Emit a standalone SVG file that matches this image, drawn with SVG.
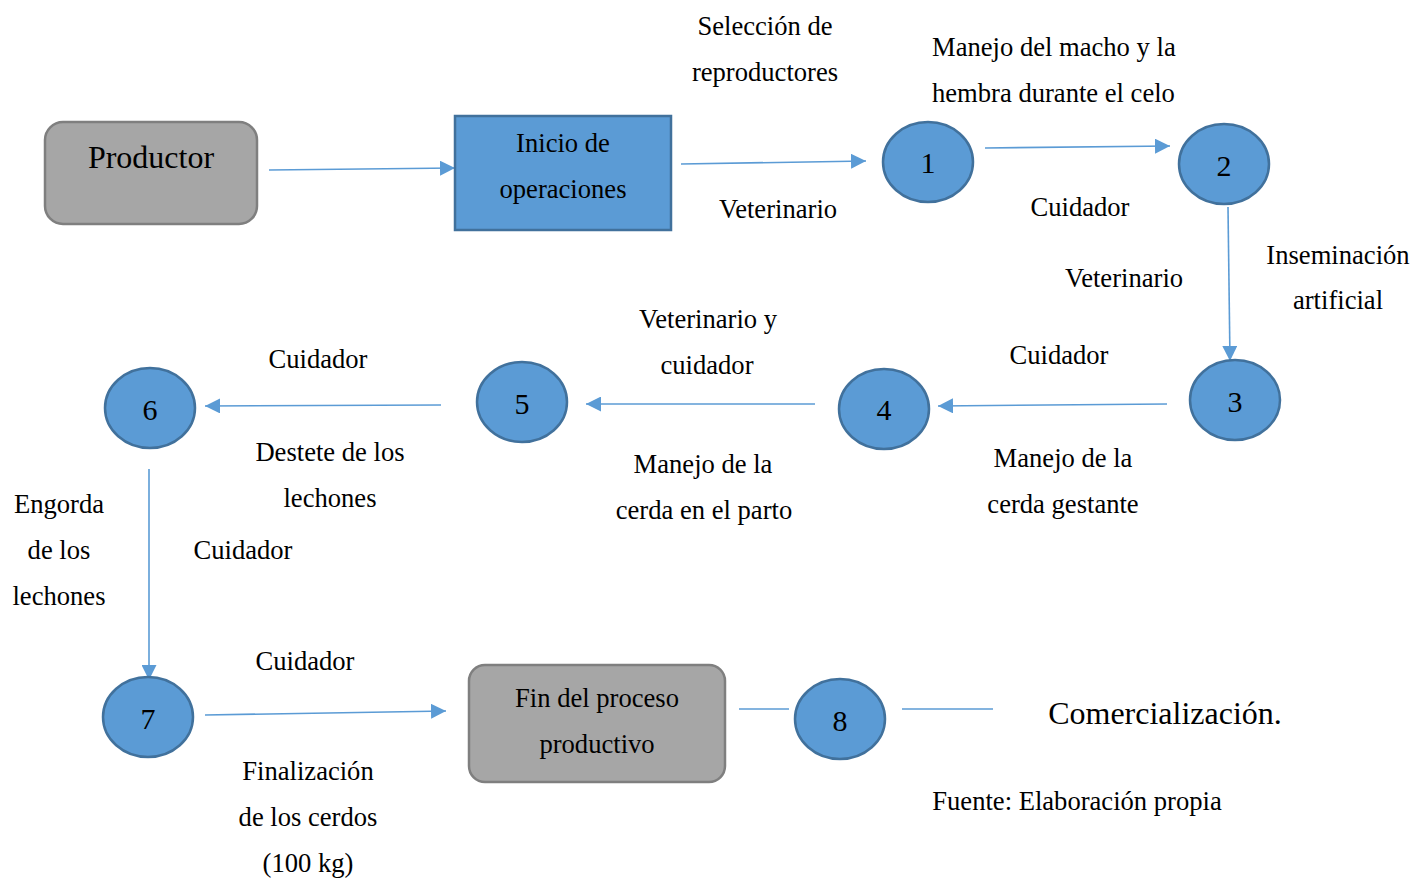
<svg xmlns="http://www.w3.org/2000/svg" width="1413" height="878" viewBox="0 0 1413 878">
<style>
text{font-family:"Liberation Serif","Times New Roman",serif;fill:#000;}
.t{font-size:26.6px;text-anchor:middle;}
.ts{font-size:26.6px;}
.n{font-size:30px;text-anchor:middle;}
.circ{fill:#5b9bd5;stroke:#41719c;stroke-width:2.5;}
.gray{fill:#a6a6a6;stroke:#7f7f7f;stroke-width:2.5;}
.blue{fill:#5b9bd5;stroke:#41719c;stroke-width:2.5;}
.c{stroke:#5b9bd5;stroke-width:1.6;fill:none;}
</style>
<defs>
<marker id="ahb" viewBox="0 0 10 10" refX="10" refY="5" markerWidth="15" markerHeight="15" markerUnits="userSpaceOnUse" orient="auto">
<path d="M0,0 L10,5 L0,10 z" fill="#5b9bd5"/>
</marker>
</defs>
<rect width="1413" height="878" fill="#fff"/>
<g id="connectors">
<path class="c" d="M269,170 L455,168" marker-end="url(#ahb)"/>
<path class="c" d="M681,164 L866,161" marker-end="url(#ahb)"/>
<path class="c" d="M985,148 L1170,146" marker-end="url(#ahb)"/>
<path class="c" d="M1228,207 L1230,361" marker-end="url(#ahb)"/>
<path class="c" d="M1167,404 L938,406" marker-end="url(#ahb)"/>
<path class="c" d="M815,404 L586,404" marker-end="url(#ahb)"/>
<path class="c" d="M441,405 L205,406" marker-end="url(#ahb)"/>
<path class="c" d="M149,469 L149,680" marker-end="url(#ahb)"/>
<path class="c" d="M205,715 L446,711" marker-end="url(#ahb)"/>
<path class="c" d="M739,709 L789,709"/>
<path class="c" d="M902,709 L993,709"/>
</g>
<g id="productor">
<rect class="gray" x="45" y="122" width="212" height="102" rx="18"/>
<text x="151" y="168" style="font-size:32px;text-anchor:middle">Productor</text>
</g>
<g id="inicio">
<rect class="blue" x="455" y="116" width="216" height="114"/>
<text class="t" x="563" y="152">Inicio de</text>
<text class="t" x="563" y="198">operaciones</text>
</g>
<g id="n1"><ellipse class="circ" cx="928" cy="162" rx="45" ry="40"/><text class="n" x="928" y="173">1</text></g>
<g id="n2"><ellipse class="circ" cx="1224" cy="164" rx="45" ry="40"/><text class="n" x="1224" y="176">2</text></g>
<g id="n3"><ellipse class="circ" cx="1235" cy="400" rx="45" ry="40"/><text class="n" x="1235" y="412">3</text></g>
<g id="n4"><ellipse class="circ" cx="884" cy="409" rx="45" ry="40"/><text class="n" x="884" y="420">4</text></g>
<g id="n5"><ellipse class="circ" cx="522" cy="402" rx="45" ry="40"/><text class="n" x="522" y="414">5</text></g>
<g id="n6"><ellipse class="circ" cx="150" cy="408" rx="45" ry="40"/><text class="n" x="150" y="420">6</text></g>
<g id="n7"><ellipse class="circ" cx="148" cy="717" rx="45" ry="40"/><text class="n" x="148" y="729">7</text></g>
<g id="n8"><ellipse class="circ" cx="840" cy="719" rx="45" ry="40"/><text class="n" x="840" y="731">8</text></g>
<g id="fin">
<rect class="gray" x="469" y="665" width="256" height="117" rx="16"/>
<text class="t" x="597" y="707">Fin del proceso</text>
<text class="t" x="597" y="753">productivo</text>
</g>
<g id="labels">
<text class="t" x="765" y="35">Selección de</text>
<text class="t" x="765" y="81">reproductores</text>
<text class="t" x="778" y="218">Veterinario</text>
<text class="ts" x="932" y="56">Manejo del macho y la</text>
<text class="ts" x="932" y="102">hembra durante el celo</text>
<text class="t" x="1080" y="216">Cuidador</text>
<text class="t" x="1338" y="264">Inseminación</text>
<text class="t" x="1338" y="309">artificial</text>
<text class="t" x="1124" y="287">Veterinario</text>
<text class="t" x="1059" y="364">Cuidador</text>
<text class="t" x="708" y="328">Veterinario y</text>
<text class="t" x="707" y="374">cuidador</text>
<text class="t" x="1063" y="467">Manejo de la</text>
<text class="t" x="1063" y="513">cerda gestante</text>
<text class="t" x="703" y="473">Manejo de la</text>
<text class="t" x="704" y="519">cerda en el parto</text>
<text class="t" x="318" y="368">Cuidador</text>
<text class="t" x="330" y="461">Destete de los</text>
<text class="t" x="330" y="507">lechones</text>
<text class="t" x="59" y="513">Engorda</text>
<text class="t" x="59" y="559">de los</text>
<text class="t" x="59" y="605">lechones</text>
<text class="t" x="243" y="559">Cuidador</text>
<text class="t" x="305" y="670">Cuidador</text>
<text class="t" x="308" y="780">Finalización</text>
<text class="t" x="308" y="826">de los cerdos</text>
<text class="t" x="308" y="872">(100 kg)</text>
<text x="1165" y="724" style="font-size:32px;text-anchor:middle">Comercialización.</text>
<text class="t" x="1077" y="810">Fuente: Elaboración propia</text>
</g>
</svg>
